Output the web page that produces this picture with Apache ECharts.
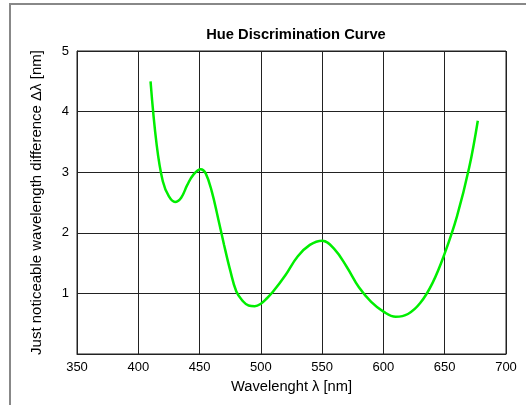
<!DOCTYPE html>
<html><head><meta charset="utf-8">
<script src="https://cdn.jsdelivr.net/npm/echarts@6/dist/echarts.min.js"></script>
<style>html,body{margin:0;padding:0;background:#fff}#c{width:526px;height:405px}</style>
</head><body><div id="c"></div>
<script>
const wavelengths = [410, 415, 420, 425, 430, 435, 440, 445, 451, 455, 460, 465, 470, 475, 480, 485, 490, 495, 500, 505, 510, 520, 530, 540, 550, 560, 570, 580, 590, 600, 610, 620, 630, 640, 650, 660, 670, 677];
const deltaLambda = [4.5, 3.45, 2.85, 2.6, 2.51, 2.58, 2.79, 2.96, 3.05, 2.98, 2.68, 2.25, 1.80, 1.38, 1.03, 0.88, 0.80, 0.79, 0.83, 0.92, 1.03, 1.30, 1.61, 1.80, 1.87, 1.73, 1.44, 1.10, 0.86, 0.70, 0.615, 0.66, 0.84, 1.17, 1.66, 2.27, 3.08, 3.85];
const xTicks = [350, 400, 450, 500, 550, 600, 650, 700];
const yTicks = [1, 2, 3, 4, 5];

const chart = echarts.init(document.getElementById('c'));
const font = 'Liberation Sans, Arial, sans-serif';
chart.setOption({
  animation: false,
  graphic: [{type: 'rect', shape: {x: 10, y: 4, width: 700, height: 600}, style: {fill: 'none', stroke: '#888', lineWidth: 2}}],
  title: {text: 'Hue Discrimination Curve', left: 291, top: 22, textAlign: 'center',
    textStyle: {fontFamily: font, fontSize: 14.7, fontWeight: 'bold', color: '#000'}},
  grid: {left: 77, top: 51, width: 429, height: 303, show: true, borderColor: '#222', borderWidth: 1},
  xAxis: {type: 'value', min: 350, max: 700, interval: 50,
    name: 'Wavelenght λ [nm]', nameLocation: 'middle', nameGap: 25,
    nameTextStyle: {fontFamily: font, fontSize: 14.7, color: '#000'},
    axisLine: {show: true, lineStyle: {color: '#222'}}, axisTick: {show: false},
    axisLabel: {fontFamily: font, fontSize: 13, color: '#000', margin: 7,
      formatter: v => xTicks.includes(v) ? String(v) : ''},
    splitLine: {show: true, lineStyle: {color: '#222', width: 1}}},
  yAxis: {type: 'value', min: 0, max: 5, interval: 1,
    name: 'Just noticeable wavelength difference Δλ [nm]', nameLocation: 'middle', nameGap: 33,
    nameTextStyle: {fontFamily: font, fontSize: 15, color: '#000'},
    axisLine: {show: true, lineStyle: {color: '#222'}}, axisTick: {show: false},
    axisLabel: {fontFamily: font, fontSize: 13, color: '#000', margin: 8,
      formatter: v => yTicks.includes(v) ? String(v) : ''},
    splitLine: {show: true, lineStyle: {color: '#222', width: 1}}},
  series: [{type: 'line', data: wavelengths.map((w, i) => [w, deltaLambda[i]]), smooth: 0.4,
    showSymbol: false, lineStyle: {color: '#00ee00', width: 2.5}}]
});
</script></body></html>
